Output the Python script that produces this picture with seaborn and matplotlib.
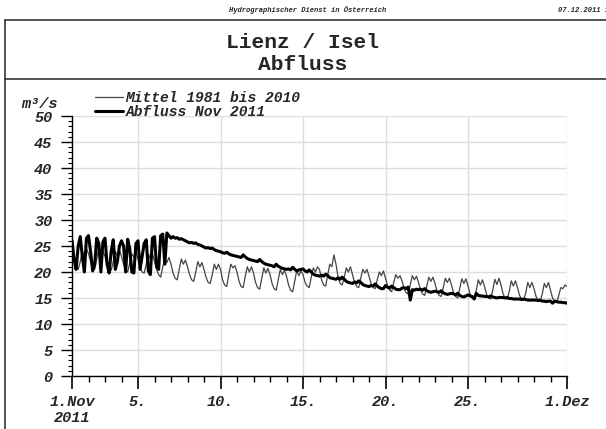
import numpy as np
import pandas as pd
import matplotlib
matplotlib.use("Agg")
from matplotlib import pyplot as plt
from matplotlib.lines import Line2D
import seaborn as sns

# 3-hourly values (00,03,...,21h) for each day of November 2011, plus 1.Dez 00h
mittel = [
    25.5, 23.0, 21.0, 20.5, 22.0, 24.0, 23.0, 24.5,
    23.5, 22.0, 20.8, 20.5, 22.5, 24.5, 23.5, 24.0,
    23.0, 21.5, 20.5, 20.3, 22.0, 24.0, 23.0, 24.2,
    23.0, 21.5, 20.5, 20.0, 21.8, 23.5, 22.8, 23.8,
    22.5, 21.0, 20.0, 19.8, 21.5, 23.5, 22.5, 23.5,
    22.0, 20.5, 19.5, 19.0, 21.0, 22.5, 21.8, 22.8,
    21.5, 19.8, 18.8, 18.5, 20.5, 22.5, 21.5, 22.3,
    21.0, 19.5, 18.5, 18.2, 20.0, 22.0, 21.0, 21.8,
    20.5, 19.0, 18.0, 17.8, 19.5, 21.5, 20.5, 21.5,
    20.5, 18.5, 17.5, 17.2, 19.5, 21.5, 20.8, 21.2,
    20.0, 18.2, 17.2, 17.0, 19.2, 21.0, 20.0, 21.0,
    19.8, 18.0, 17.0, 16.7, 18.8, 20.8, 19.8, 20.7,
    19.5, 17.8, 16.8, 16.5, 18.5, 20.5, 19.5, 20.3,
    19.2, 17.5, 16.5, 16.2, 18.3, 20.3, 19.3, 20.2,
    19.5, 18.0, 17.3, 17.0, 19.0, 20.8, 20.0, 21.0,
    20.5, 18.5, 17.5, 17.3, 19.5, 21.5, 21.0, 23.3,
    21.5, 19.0, 17.8, 17.5, 19.0, 20.8, 20.0, 21.0,
    19.5, 18.0, 17.2, 17.0, 18.8, 20.5, 19.8, 20.5,
    19.2, 17.8, 17.0, 16.8, 18.5, 20.0, 19.3, 20.2,
    18.8, 17.3, 16.5, 16.2, 18.0, 19.5, 18.8, 19.3,
    18.3, 16.8, 16.0, 15.8, 17.5, 19.3, 18.5, 19.2,
    18.0, 16.5, 15.8, 15.5, 17.3, 19.0, 18.2, 19.0,
    17.8, 16.3, 15.5, 15.3, 17.0, 18.8, 18.0, 18.8,
    17.5, 16.0, 15.3, 15.0, 16.8, 18.7, 17.8, 18.7,
    17.3, 15.8, 15.0, 14.8, 16.5, 18.5, 17.5, 18.5,
    17.2, 15.7, 15.0, 14.8, 16.5, 18.6, 17.6, 18.8,
    17.5, 15.8, 15.0, 14.8, 16.3, 18.3, 17.3, 18.3,
    17.0, 15.5, 14.8, 14.6, 16.0, 18.0, 17.0, 18.0,
    16.8, 15.3, 14.6, 14.4, 15.8, 17.8, 17.0, 18.0,
    16.5, 15.0, 14.3, 14.1, 15.5, 17.0, 16.8, 17.5,
    17.2,
]

abfluss = [
    26.0, 22.5, 20.5, 25.0, 26.8, 23.0, 20.0, 26.5,
    27.0, 24.0, 20.2, 21.5, 26.5, 25.5, 20.0, 25.8,
    26.5, 21.5, 19.8, 24.0, 26.2, 20.5, 22.0, 25.0,
    26.0, 25.0, 20.0, 26.3, 24.5, 20.0, 19.8, 25.5,
    26.0, 20.5, 23.0, 25.5, 26.2, 20.2, 19.5, 26.5,
    26.8, 21.0, 20.5, 27.0, 27.3, 21.5, 27.5, 27.0,
    26.5, 26.8, 26.5, 26.6, 26.3, 26.4, 26.2, 26.0,
    25.8, 25.6, 25.7, 25.5, 25.6, 25.3, 25.2, 25.0,
    24.8, 24.6, 24.7, 24.5, 24.6, 24.3, 24.1, 24.0,
    23.9, 23.7, 23.6, 23.8, 23.5, 23.3, 23.2, 23.1,
    23.0, 22.9, 22.8, 23.3, 22.9, 22.6, 22.4, 22.3,
    22.2, 22.1, 22.0, 22.4, 22.0, 21.7, 21.5, 21.4,
    21.3, 21.2, 21.0, 21.5, 21.1, 20.9, 20.7, 20.6,
    20.5, 20.6, 20.4, 20.9, 20.5, 20.2, 20.4, 20.5,
    20.6, 20.2, 20.0, 20.4, 20.0, 19.6, 19.4, 19.3,
    19.2, 19.4, 19.2, 19.6, 19.3, 18.9, 18.8, 18.7,
    18.6, 18.9, 18.6, 19.0, 18.6, 18.2, 18.0, 17.9,
    17.8, 18.1, 17.9, 18.3, 18.0, 17.6, 17.4, 17.3,
    17.2, 17.4, 17.3, 17.7, 17.3, 17.0, 16.8, 16.8,
    17.4, 17.1, 16.9, 17.3, 17.0, 16.7, 16.6, 16.6,
    16.9, 17.0, 16.8, 17.1, 14.6, 16.6, 16.5, 16.7,
    16.6, 16.7, 16.5, 16.8, 16.4, 16.2, 16.1, 16.2,
    16.3, 16.2, 16.1, 16.4, 16.0, 15.8, 15.7, 15.8,
    15.9, 15.8, 15.6, 15.9, 15.5, 15.3, 15.2, 15.4,
    15.6, 15.4, 15.3, 14.8, 15.9, 15.5, 15.4, 15.4,
    15.3, 15.3, 15.2, 15.4, 15.2, 15.1, 15.0, 15.1,
    15.1, 15.1, 15.0, 15.1, 14.9, 14.9, 14.8, 14.8,
    14.8, 14.8, 14.7, 14.8, 14.7, 14.6, 14.6, 14.6,
    14.6, 14.6, 14.5, 14.6, 14.4, 14.4, 14.3, 14.4,
    14.4, 14.0, 14.4, 14.3, 14.2, 14.2, 14.1, 14.1,
    14.0,
]

xtick_labels = ["1.Nov\n2011", "5.", "10.", "15.", "20.", "25.", "1.Dez"]
xtick_days = ["2011-11-01", "2011-11-05", "2011-11-10", "2011-11-15",
              "2011-11-20", "2011-11-25", "2011-12-01"]

times = pd.date_range("2011-11-01", "2011-12-01", freq="3h")
df = pd.DataFrame({"Zeit": times, "mittel": mittel, "abfluss": abfluss})

sns.set_style("white")
plt.rcParams["font.family"] = ["Liberation Mono", "DejaVu Sans Mono"]
tickfont = dict(family="Liberation Mono", weight="bold", style="italic", size=11)

fig = plt.figure(figsize=(6.06, 4.29), dpi=100)
ax = fig.add_axes([72/606, 1-376/429, 495/606, 260/429])

sns.lineplot(data=df, x="Zeit", y="mittel", ax=ax, color="#444444", lw=0.9)
sns.lineplot(data=df, x="Zeit", y="abfluss", ax=ax, color="black", lw=2.2)

ax.set_xlim(times[0], times[-1])
ax.set_ylim(0, 50)
ax.set_xlabel("")
ax.set_ylabel("")

ax.set_xticks(pd.to_datetime(xtick_days))
ax.set_xticklabels(xtick_labels, fontdict=tickfont, linespacing=1.1)
ax.set_xticks(pd.date_range("2011-11-01", "2011-12-01", freq="D"), minor=True)
ax.set_yticks(np.arange(0, 51, 5))
ax.set_yticklabels([str(v) for v in range(0, 51, 5)], fontdict=tickfont)
ax.set_yticks(np.arange(0, 51, 1), minor=True)

ax.tick_params(axis="x", which="major", length=9, width=1.2, direction="out", pad=5)
ax.tick_params(axis="x", which="minor", length=4, width=1, direction="out")
ax.tick_params(axis="y", which="major", length=8, width=1, direction="out", pad=6)
ax.tick_params(axis="y", which="minor", length=3, width=0.8, direction="out")
ax.tick_params(which="both", bottom=True, left=True, color="black")

ax.grid(True, which="major", color="#dddddd", lw=1)
for side in ["top", "right"]:
    ax.spines[side].set_visible(False)
for side in ["left", "bottom"]:
    ax.spines[side].set_color("black")
    ax.spines[side].set_linewidth(1)

# legend above the plot
handles = [Line2D([], [], color="#444444", lw=0.9),
           Line2D([], [], color="black", lw=2.2)]
leg = fig.legend(handles, ["Mittel 1981 bis 2010", "Abfluss Nov 2011"],
                 loc="upper left", bbox_to_anchor=(89/606, 1-85/429),
                 frameon=False, handlelength=1.9, handletextpad=0.2,
                 labelspacing=0.0, borderaxespad=0,
                 prop=dict(family="Liberation Mono", weight="bold",
                           style="italic", size=10.5))

fig.text(21/606, 1-104/429, "m³/s", ha="left", va="center", **tickfont)

# header and title block
fig.text(308/606, 1-10/429, "Hydrographischer Dienst in Österreich",
         ha="center", va="center", family="Liberation Mono", weight="bold",
         style="italic", size=5.1)
fig.text(558/606, 1-10/429, "07.12.2011 15:04", ha="left", va="center",
         family="Liberation Mono", weight="bold", style="italic", size=5.1)
fig.text(0.5, 1-42/429, "Lienz / Isel", ha="center", va="center",
         family="Liberation Mono", weight="bold", size=15.3)
fig.text(0.5, 1-64/429, "Abfluss", ha="center", va="center",
         family="Liberation Mono", weight="bold", size=15.3)

fig.add_artist(Line2D([5/606, 1], [1-20/429, 1-20/429], color="#333333", lw=1.2))
fig.add_artist(Line2D([5/606, 1], [1-79/429, 1-79/429], color="#333333", lw=1.2))
fig.add_artist(Line2D([5/606, 5/606], [0, 1-20/429], color="#333333", lw=1.2))

fig.savefig("out.png", dpi=100)
